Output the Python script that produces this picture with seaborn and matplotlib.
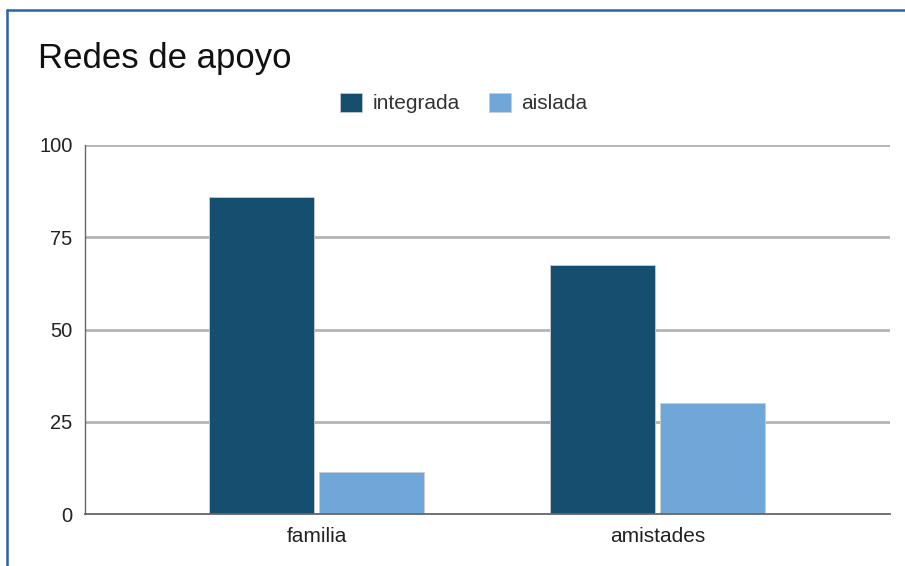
import matplotlib
matplotlib.use("Agg")
import matplotlib.pyplot as plt
import seaborn as sns
import pandas as pd
from matplotlib.lines import Line2D
from matplotlib.patches import Patch

categories = ["familia", "amistades"]
series_names = ["integrada", "aislada"]
integrada = [86, 67.5]
aislada = [11.5, 30]
yticks = [0, 25, 50, 75, 100]
colors = ["#144f6f", "#6fa8d8"]

df = pd.DataFrame({
    "categoria": categories * 2,
    "serie": [series_names[0]] * len(categories) + [series_names[1]] * len(categories),
    "valor": integrada + aislada,
})

sns.set_theme(style="white")
plt.rcParams['font.family'] = ['Liberation Sans', 'DejaVu Sans']

fig = plt.figure(figsize=(9.05, 5.66), dpi=100)
W, H = 905, 566
ax = fig.add_axes([85 / W, 1 - 514 / H, (890 - 85) / W, (514 - 145) / H])

sns.barplot(data=df, x="categoria", y="valor", hue="serie", palette=colors,
            width=0.645, gap=0.04, ax=ax, legend=False, saturation=1,
            edgecolor="#cccccc", linewidth=0.6, zorder=3)

ax.set_ylim(0, 100)
ax.set_xlim(-0.68, 1.683)
ax.set_yticks(yticks)
ax.set_yticklabels([str(t) for t in yticks], fontsize=14.5, color="#222222")
ax.tick_params(axis="x", labelsize=15, colors="#222222", length=0, pad=9)
ax.tick_params(axis="y", length=0, pad=9)
ax.set_xlabel("")
ax.set_ylabel("")
for t in yticks[1:]:
    ax.axhline(t, color="#b4b4b8", lw=2, zorder=1)
for s in ["top", "right"]:
    ax.spines[s].set_visible(False)
ax.spines["bottom"].set_color("#666666")
ax.spines["bottom"].set_linewidth(1.3)
ax.spines["left"].set_color("#666666")
ax.spines["left"].set_linewidth(1.0)
ax.spines["bottom"].set_zorder(4)

fig.text(38 / W, 1 - 58 / H, "Redes de apoyo", fontsize=25, color="#111111",
         ha="left", va="center")

handles = [Patch(facecolor=c, edgecolor="#cccccc", linewidth=0.5) for c in colors]
fig.legend(handles, series_names, loc="center", bbox_to_anchor=(463.5 / W, 1 - 103 / H),
           ncol=2, frameon=False, fontsize=15, handlelength=1.05, handleheight=1.05,
           columnspacing=1.4, handletextpad=0.5, labelcolor="#333333")

fig.add_artist(Line2D([7 / W, 7 / W], [0, 1 - 10 / H], transform=fig.transFigure,
                      color="#2b63a8", lw=1.8))
fig.add_artist(Line2D([7 / W, 1], [1 - 10 / H, 1 - 10 / H], transform=fig.transFigure,
                      color="#2b63a8", lw=1.8))

fig.savefig("out.png", dpi=100, facecolor="white")
